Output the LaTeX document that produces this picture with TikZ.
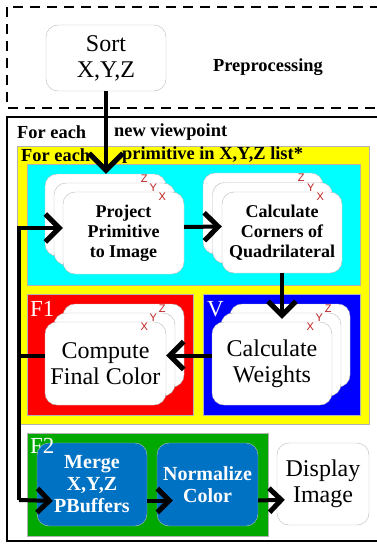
\documentclass[tikz,border=0pt]{standalone}
\usepackage{fontspec}
\setmainfont{Liberation Serif}
\newfontfamily\axisfont{Liberation Sans}
\usetikzlibrary{arrows.meta}

\definecolor{loopyellow}{RGB}{255,255,0}
\definecolor{stagecyan}{RGB}{0,255,255}
\definecolor{stagered}{RGB}{255,0,0}
\definecolor{stageblue}{RGB}{0,0,255}
\definecolor{stagegreen}{RGB}{0,168,0}
\definecolor{pbblue}{RGB}{0,114,196}
\definecolor{axisred}{RGB}{190,30,30}

\begin{document}
\begin{tikzpicture}[
    x=1pt, y=-1pt,
    card/.style={draw=gray!55, fill=white, rounded corners=12pt, minimum width=121pt, minimum height=82pt, inner sep=2pt, align=center},
    cardbold/.style={font=\fontsize{18}{20}\selectfont\bfseries},
    cardplain/.style={font=\fontsize{24}{26}\selectfont},
    xyz/.style={font=\axisfont\fontsize{11}{11}\selectfont, text=axisred, inner sep=0pt},
    looplabel/.style={font=\fontsize{18.4}{20}\selectfont\bfseries, anchor=west, inner sep=0pt},
    paneltag/.style={font=\fontsize{23}{23}\selectfont, text=white, anchor=base west, inner sep=0pt},
    pbox/.style={draw=gray!50, fill=pbblue, rounded corners=12pt, minimum height=83pt, text=white, align=center, font=\fontsize{20}{22}\selectfont\bfseries},
    panel/.style={draw=gray!60, line width=0.8pt},
    tip/.style={arrows={-Straight Barb[length=#1, width=2*#1, line width=5pt]}},
    flow/.style={line width=4pt, tip=14pt}
]
   \useasboundingbox (0,0) rectangle (377,544);
   \clip (0,0) rectangle (377,544);

   % Loops and stages
   \draw[line width=2.5pt, dash pattern=on 10pt off 7pt] (7,7) rectangle (390,108);
   \draw[line width=2pt] (7,117) rectangle (390,541);
   \filldraw[panel, fill=loopyellow] (17,146) rectangle (369,424);
   \filldraw[panel, fill=stagecyan] (27,164) rectangle (360,285);
   \filldraw[panel, fill=stagered] (27,294) rectangle (193,415);
   \filldraw[panel, fill=stageblue] (203,294) rectangle (360,415);
   \filldraw[panel, fill=stagegreen] (27,433) rectangle (268,536);

   \node[looplabel] (vpA) at (17,132) {For each};
   \node[looplabel] (vpB) at (114,132) {new viewpoint};
   \node[looplabel] (prA) at (21,155) {For each};
   \node[looplabel] (prB) at (122,155) {primitive in X,Y,Z list*};
   \node[paneltag] (f1) at (30,316) {F1};
   \node[paneltag] (v) at (207,316) {V};

   % Preprocessing
   \node[draw=gray!55, rounded corners=12pt, minimum width=120pt, minimum height=66pt, align=center, cardplain] (sort) at (106,58) {Sort\\X,Y,Z};
   \node[font=\fontsize{18.4}{20}\selectfont\bfseries] (pre) at (268,67) {Preprocessing};

   % Card stacks, one card for each of X, Y, Z
   \foreach \i/\l in {2/Z,1/Y} {
      \node[card] (proj\i) at (123.5-9*\i, 233-9*\i) {};
      \node[xyz] (proj\l) at ([shift={(-22,5)}]proj\i.north east) {\l};
      \node[card, minimum width=120pt, minimum height=81pt] (corn\i) at (282-9.5*\i, 232.5-9.5*\i) {};
      \node[xyz] (corn\l) at ([shift={(-22,5)}]corn\i.north east) {\l};
      \node[card, minimum height=83pt] (cfc\i) at (105.5+9*\i, 363.5-9*\i) {};
      \node[xyz] (cfc\l) at ([shift={(-22,5)}]cfc\i.north east) {\l};
      \node[card, minimum width=120pt, minimum height=83pt] (wts\i) at (272+9*\i, 363.5-9*\i) {};
      \node[xyz] (wts\l) at ([shift={(-22,5)}]wts\i.north east) {\l};
   }
   \node[card, cardbold] (proj) at (123.5,233) {Project\\Primitive\\to Image};
   \node[xyz] (projX) at ([shift={(-22,5)}]proj.north east) {X};
   \node[card, cardbold, minimum width=120pt, minimum height=81pt] (corn) at (282,232.5) {Calculate\\Corners of\\Quadrilateral};
   \node[xyz] (cornX) at ([shift={(-22,5)}]corn.north east) {X};
   \node[card, cardplain, minimum height=83pt] (cfc) at (105.5,363.5) {Compute\\Final Color};
   \node[xyz] (cfcX) at ([shift={(-22,5)}]cfc.north east) {X};
   \node[card, cardplain, minimum width=120pt, minimum height=83pt] (wts) at (272,363.5) {Calculate\\Weights};
   \node[xyz] (wtsX) at ([shift={(-22,5)}]wts.north east) {X};

   % PBuffer stage
   \node[pbox, minimum width=110pt] (merge) at (92,484.5) {Merge\\X,Y,Z\\PBuffers};
   \node[pbox, minimum width=101pt] (norm) at (207.5,484.5) {Normalize\\Color};
   \node[card, cardplain, minimum width=92pt] (disp) at (323,484) {Display\\Image};
   \node[paneltag] (f2) at (30,453) {F2};

   % Flow
   \coordinate (busTop) at (19,228);
   \coordinate (busBot) at (19,500);
   \draw[flow, tip=17pt] (sort) -- (sort.south |- proj2.north);
   \draw[flow] ([yshift=6pt]proj.east) -- ([yshift=6pt]corn.west);
   \draw[flow, shorten >=3pt] (corn.south) -- (corn.south |- wts.north);
   \draw[flow] ([yshift=8pt]wts.west) -- ([yshift=8pt]cfc.east);
   \draw[line width=4pt] ([yshift=8pt]cfc.west) -- ([yshift=8pt]cfc.west -| busTop);
   \draw[flow] (busBot) |- ([yshift=5pt]proj.west);
   \draw[flow, tip=12pt, shorten >=-16pt] (busBot) -- ([yshift=-16pt]merge.west);
   \draw[flow, tip=12pt, shorten >=-16pt] ([yshift=-16pt]merge.east) -- ([yshift=-16pt]norm.west);
   \draw[flow, tip=12pt, shorten >=-8pt] ([yshift=-16pt]norm.east) -- ([yshift=-16pt]disp.west);
\end{tikzpicture}
\end{document}
